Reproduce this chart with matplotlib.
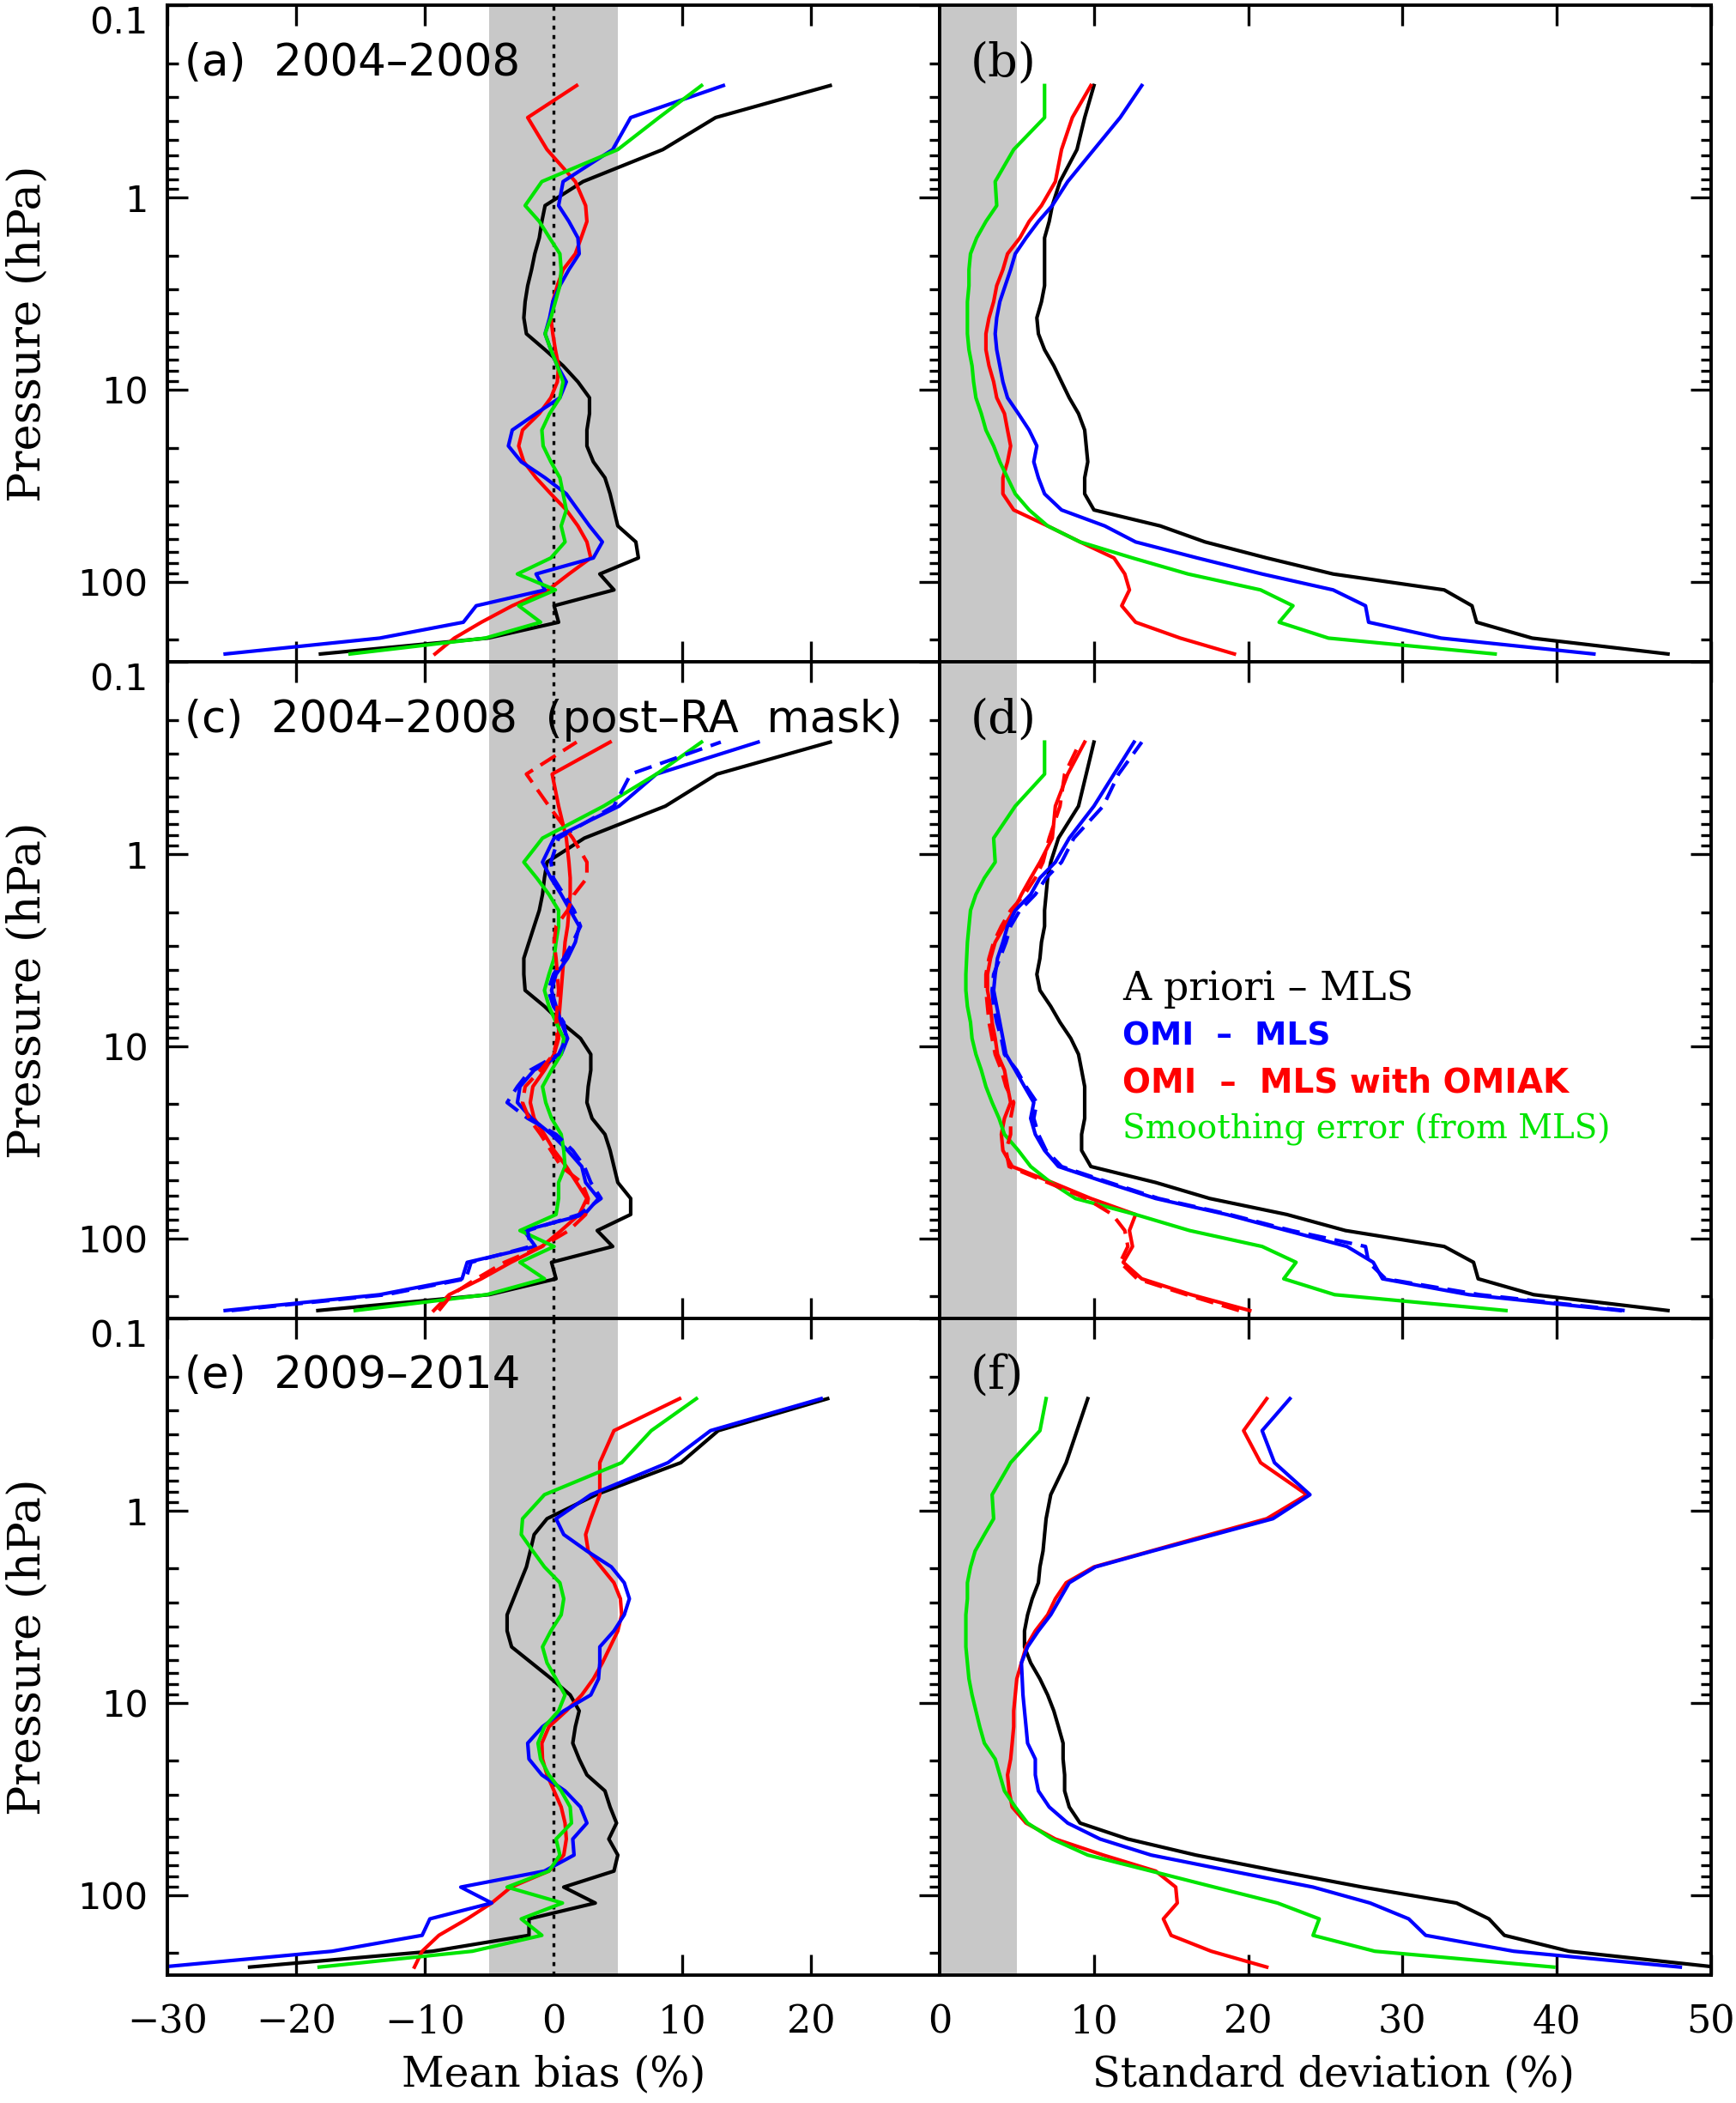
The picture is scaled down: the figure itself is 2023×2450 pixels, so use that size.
"""Six-panel OMI - MLS ozone profile comparison (mean bias and standard deviation)."""

import matplotlib

matplotlib.use("Agg")
import matplotlib.pyplot as plt  # noqa: E402
from matplotlib.ticker import FixedLocator, FixedFormatter, LogLocator, NullFormatter  # noqa: E402

plt.rcParams["font.family"] = ["DejaVu Sans"]
plt.rcParams["axes.unicode_minus"] = True

# --- Data ----------------------------------------------------------------
# common pressure grid, bottom to top (hPa)
PRESSURE = [237, 196, 162, 133, 110, 90.9, 75.0, 61.9, 51.1, 42.2, 34.8, 28.7,
            23.7, 19.6, 16.2, 13.3, 11.0, 9.09, 7.50, 6.19, 5.11, 4.22, 3.48,
            2.87, 2.37, 1.96, 1.62, 1.33, 1.10, 0.825, 0.562, 0.383, 0.261]

# (a) mean bias 2004-2008 (%)
A_PRIORI_A = [-18.1, -5.1, 0.4, 0.05, 4.7, 3.6, 6.6, 6.4, 5.0, 4.7, 4.4, 4.0, 3.1, 2.6,
              2.6, 2.8, 2.8, 1.9, 0.75, -0.65, -2.1, -2.3, -2.2, -2.0, -1.7, -1.45,
              -1.1, -0.9, -0.65, 2.3, 8.5, 12.6, 21.5]
OMI_A = [-25.5, -13.5, -7.0, -6.0, -0.65, -1.35, 3.1, 3.8, 2.8, 1.9, 1.0, -0.65, -2.5,
         -3.5, -3.2, -1.35, 0.5, 1.0, 0.3, -0.2, -0.65, -0.3, -0.05, 0.5, 1.2, 2.0,
         1.9, 1.2, 0.4, 0.75, 4.6, 6.0, 13.2]
OMIAK_A = [-9.2, -7.7, -5.6, -3.2, -0.4, 1.2, 2.9, 2.6, 1.9, 1.0, -0.2, -1.35, -2.3,
           -2.7, -2.4, -1.1, -0.2, 0.3, 0.4, 0.15, -0.05, -0.2, -0.05, 0.3, 0.75, 1.7,
           2.15, 2.6, 2.5, 1.7, -0.5, -2.0, 1.8]
SMOOTH_A = [-15.8, -5.3, -1.0, -2.7, 0.15, -2.8, -0.2, 0.9, 0.6, 1.0, 0.75, 0.5, -0.2,
            -0.8, -0.9, -0.3, 0.5, 0.75, 0.3, -0.2, -0.65, -0.2, 0.15, 0.5, 0.6, 0.5,
            -0.3, -1.1, -2.2, -0.9, 5.0, 8.2, 11.5]

# (b) standard deviation 2004-2008 (%)
A_PRIORI_B = [47.2, 38.4, 34.8, 34.5, 32.7, 25.5, 21.2, 17.2, 14.3, 10.0, 9.4, 9.4, 9.6,
              9.5, 9.4, 9.0, 8.4, 7.9, 7.4, 6.8, 6.4, 6.3, 6.6, 6.8, 6.8, 6.8, 6.8, 7.1,
              7.3, 7.8, 8.9, 9.4, 10.0]
OMI_B = [42.4, 32.5, 27.8, 27.6, 25.5, 20.9, 16.7, 12.7, 10.7, 7.9, 6.8, 6.4, 6.1, 6.3,
         5.8, 5.1, 4.4, 4.1, 3.9, 3.7, 3.6, 3.7, 3.9, 4.25, 4.6, 4.9, 5.6, 6.4, 7.3, 8.3,
         10.0, 11.7, 13.1]
OMIAK_B = [19.1, 15.6, 12.7, 11.8, 12.3, 12.0, 11.3, 9.1, 7.0, 4.8, 4.1, 4.1, 4.4, 4.6,
           4.4, 4.2, 3.7, 3.5, 3.2, 3.0, 3.0, 3.2, 3.5, 3.7, 4.1, 4.4, 5.2, 5.8, 6.6,
           7.5, 7.9, 8.6, 9.8]
SMOOTH_B = [36.0, 25.2, 22.0, 22.9, 20.8, 16.1, 12.5, 9.1, 7.0, 5.8, 4.9, 4.4, 3.9, 3.5,
            3.0, 2.7, 2.35, 2.2, 2.1, 1.9, 1.8, 1.8, 1.8, 1.9, 1.9, 2.0, 2.4, 3.0, 3.7,
            3.6, 4.8, 6.8, 6.8]

# (c) mean bias 2004-2008, post row-anomaly mask (%); *_DASH = dashed variants
A_PRIORI_C = [-18.3, -5.0, 0.2, -0.15, 4.6, 3.4, 6.0, 6.0, 5.0, 4.7, 4.4, 4.0, 3.0, 2.6,
              2.7, 2.9, 2.9, 2.1, 0.6, -0.7, -2.2, -2.3, -2.3, -1.9, -1.5, -1.1, -0.85,
              -0.7, -0.5, 2.4, 8.7, 12.7, 21.5]
OMI_C = [-25.5, -13.5, -7.1, -6.7, -1.4, -2.3, 2.4, 3.5, 2.5, 2.2, 1.1, -0.15, -1.7,
         -2.8, -2.6, -1.5, 0.6, 1.1, 0.6, 0.2, -0.15, 0.2, 1.1, 1.7, 2.0, 1.3, 0.6, -0.2,
         -0.85, 0.05, 5.1, 8.0, 15.9]
OMI_C_DASH = [-25.0, -13.0, -6.8, -6.4, -1.8, -2.0, 2.0, 3.7, 2.9, 2.4, 1.5, 0.2, -2.0,
              -3.6, -2.8, -1.8, 0.4, 1.0, 0.8, 0.0, -0.4, 0.0, 0.8, 1.5, 2.1, 1.6, 0.8,
              0.0, -0.2, 0.4, 4.7, 6.0, 13.0]
OMIAK_C = [-9.3, -8.1, -5.6, -3.3, -0.9, 0.6, 2.0, 2.6, 1.8, 1.0, 0.05, -0.7, -1.5, -1.8,
           -1.6, -0.7, 0.05, 0.4, 0.4, 0.5, 0.6, 0.7, 0.8, 0.9, 1.1, 1.2, 1.3, 1.3, 1.2,
           1.0, 0.4, -0.1, 4.4]
OMIAK_C_DASH = [-8.9, -7.9, -6.0, -3.8, -0.9, 1.2, 2.5, 2.7, 2.2, 0.6, -0.2, -1.0, -1.9,
                -2.4, -2.2, -1.0, 0.0, 0.3, 0.2, 0.3, 0.4, 0.3, 0.2, 0.05, 0.2, 1.1, 1.6,
                2.6, 2.6, 1.5, -0.35, -2.1, 1.8]
SMOOTH_C = [-15.4, -5.2, -0.7, -2.6, 0.05, -2.6, 0.2, 0.4, 0.4, 0.9, 0.8, 0.6, -0.15,
            -0.6, -0.85, -0.15, 0.6, 0.8, 0.2, -0.35, -0.7, -0.35, 0.05, 0.2, 0.4, 0.4,
            -0.35, -1.3, -2.3, -0.85, 3.9, 8.0, 11.5]

# (d) standard deviation 2004-2008, post row-anomaly mask (%)
A_PRIORI_D = [47.2, 38.5, 34.9, 34.6, 32.7, 26.3, 22.5, 17.5, 14.0, 9.8, 9.2, 9.2, 9.4,
              9.4, 9.4, 9.2, 9.0, 8.5, 7.8, 7.2, 6.5, 6.3, 6.5, 6.6, 6.8, 6.8, 6.9, 7.0,
              7.2, 7.7, 9.0, 9.5, 10.0]
OMI_D = [44.1, 34.3, 28.7, 28.1, 26.4, 22.5, 18.6, 14.0, 10.8, 7.7, 6.8, 6.2, 5.9, 6.1,
         5.5, 4.9, 4.3, 4.1, 3.9, 3.7, 3.5, 3.6, 3.75, 4.1, 4.4, 4.9, 5.9, 6.5, 7.5, 8.4,
         10.0, 11.3, 12.6]
OMI_D_DASH = [44.4, 35.0, 28.9, 27.8, 27.6, 22.8, 18.8, 14.2, 11.0, 7.9, 6.9, 6.4, 6.1,
              6.3, 5.6, 5.0, 4.2, 4.0, 3.7, 3.5, 3.4, 3.5, 3.9, 4.3, 4.6, 5.2, 6.2, 6.9,
              7.9, 8.7, 10.6, 11.6, 13.1]
OMIAK_D = [20.1, 16.3, 13.1, 11.9, 12.5, 12.3, 12.7, 9.8, 7.3, 4.7, 4.1, 4.0, 4.2, 4.6,
           4.4, 4.2, 3.75, 3.6, 3.4, 3.3, 3.1, 3.1, 3.3, 3.6, 4.2, 4.8, 5.3, 5.9, 6.5,
           7.3, 7.5, 8.3, 9.4]
OMIAK_D_DASH = [19.4, 16.0, 12.8, 11.7, 12.2, 12.0, 11.2, 9.5, 7.0, 4.5, 4.3, 4.6, 4.6,
                4.8, 4.3, 4.0, 3.6, 3.4, 3.2, 3.1, 3.0, 3.0, 3.2, 3.5, 4.0, 4.6, 5.5, 6.2,
                6.7, 7.1, 7.8, 8.1, 9.1]
SMOOTH_D = [36.7, 25.6, 22.3, 23.1, 20.9, 16.2, 12.7, 8.8, 7.2, 5.9, 5.1, 4.2, 3.85, 3.4,
            3.0, 2.7, 2.35, 2.1, 2.0, 1.8, 1.7, 1.7, 1.75, 1.8, 1.9, 2.0, 2.35, 2.9, 3.6,
            3.5, 4.9, 6.8, 6.8]

# (e) mean bias 2009-2014 (%)
A_PRIORI_E = [-23.6, -9.4, -1.9, -1.9, 3.25, 0.8, 4.7, 5.0, 4.3, 4.9, 4.4, 4.0, 2.6, 2.0,
              1.5, 1.7, 2.0, 1.3, -0.15, -1.7, -3.25, -3.6, -3.6, -3.1, -2.6, -2.1,
              -1.8, -1.5, -0.5, 3.3, 9.9, 12.8, 21.3]
OMI_E = [-30.5, -17.2, -10.2, -9.6, -4.8, -7.2, -0.7, 1.6, 1.5, 2.6, 2.1, 0.9, -0.9,
         -1.9, -2.0, -0.85, 0.8, 2.9, 3.5, 3.6, 3.6, 4.7, 5.5, 5.9, 5.5, 4.5, 2.6, 0.8,
         0.2, 2.9, 8.9, 12.2, 20.8]
OMIAK_E = [-10.8, -10.2, -8.9, -6.7, -4.8, -3.3, -0.35, 0.8, 1.0, 0.9, 0.6, 0.05, -0.5,
           -0.85, -0.9, -0.35, 1.0, 2.2, 3.1, 3.8, 4.4, 5.0, 5.3, 5.2, 4.7, 3.7, 2.7, 2.5,
           2.9, 3.6, 3.6, 4.7, 9.8]
SMOOTH_E = [-18.2, -6.3, -0.9, -2.5, 0.7, -3.6, -0.35, 0.5, 0.2, 1.4, 1.3, 0.6, -0.35,
            -1.0, -1.2, -0.7, 0.4, 0.9, 0.2, -0.5, -0.85, -0.2, 0.6, 0.8, 0.5, -0.7,
            -1.6, -2.5, -2.4, -0.7, 5.3, 7.6, 11.1]

# (f) standard deviation 2009-2014 (%)
A_PRIORI_F = [50.3, 40.8, 36.6, 35.6, 33.5, 27.4, 21.9, 16.6, 12.2, 9.1, 8.4, 8.1, 8.1,
              8.0, 8.0, 7.7, 7.4, 7.0, 6.5, 5.9, 5.5, 5.5, 5.7, 6.0, 6.4, 6.5, 6.7, 6.8,
              6.9, 7.2, 8.2, 8.9, 9.6]
OMI_F = [48.0, 37.2, 31.5, 30.4, 27.9, 24.2, 18.9, 13.7, 10.4, 8.3, 7.1, 6.4, 6.2, 6.2,
         5.7, 5.6, 5.5, 5.4, 5.35, 5.3, 5.7, 6.4, 7.2, 7.8, 8.4, 10.1, 13.8, 17.8, 21.6,
         24.0, 21.7, 20.9, 22.7]
OMIAK_F = [21.2, 17.6, 15.0, 14.5, 15.4, 15.3, 14.0, 10.6, 7.5, 5.6, 4.7, 4.5, 4.4, 4.6,
           4.7, 4.8, 4.8, 4.9, 5.0, 5.3, 5.6, 6.2, 7.0, 7.5, 8.2, 10.0, 13.7, 17.5, 21.2,
           23.8, 20.8, 19.7, 21.2]
SMOOTH_F = [39.8, 28.2, 24.2, 24.6, 21.9, 17.8, 13.7, 9.6, 7.3, 5.7, 4.9, 4.2, 3.9, 3.6,
            2.9, 2.6, 2.35, 2.1, 1.9, 1.8, 1.7, 1.7, 1.7, 1.8, 1.8, 2.0, 2.3, 2.9, 3.5,
            3.4, 4.6, 6.5, 6.9]

PANEL_TAGS = ["(a)  2004\u20132008", "(b)", "(c)  2004\u20132008  (post\u2013RA  mask)",
              "(d)", "(e)  2009\u20132014", "(f)"]
LEGEND_LABELS = ["A priori \u2013 MLS", "OMI  \u2013  MLS", "OMI  \u2013  MLS with OMIAK",
                 "Smoothing error (from MLS)"]

BIAS_TICKS = [-30, -20, -10, 0, 10, 20, 30]
BIAS_TICKLABELS = ["\u221230", "\u221220", "\u221210", "0", "10", "20", ""]
SD_TICKS = [0, 10, 20, 30, 40, 50]
SD_TICKLABELS = ["0", "10", "20", "30", "40", "50"]
P_TICKS = [0.1, 1, 10, 100]
P_TICKLABELS = ["0.1", "1", "10", "100"]

# --- Style ---------------------------------------------------------------
BLACK, BLUE, RED, GREEN = "black", "#0000ff", "#ff0000", "#00e400"
SHADE = "#c8c8c8"
LW = 3.0
DASH = (0, (5, 2.5))
SERIF = "DejaVu Serif"

X0, XM, X1 = 0.0963, 0.5410, 0.9852
ROW_BOTTOMS = [0.6852, 0.3730, 0.0608]
ROW_H = 0.3122


def style_axes(ax, bias, bottom_row, left_col):
    ax.set_yscale("log")
    ax.set_ylim(261, 0.1)
    if bias:
        ax.set_xlim(-30, 30)
        ax.xaxis.set_major_locator(FixedLocator(BIAS_TICKS))
        labels = BIAS_TICKLABELS
        ax.axvspan(-5, 5, color=SHADE, lw=0, zorder=1)
        ax.axvline(0, color="black", ls=(0, (1.4, 1.9)), lw=2.4, zorder=1.5)
    else:
        ax.set_xlim(0, 50)
        ax.xaxis.set_major_locator(FixedLocator(SD_TICKS))
        labels = SD_TICKLABELS
        ax.axvspan(0, 5, color=SHADE, lw=0, zorder=1)
    if bottom_row:
        ax.xaxis.set_major_formatter(FixedFormatter(labels))
    else:
        ax.xaxis.set_major_formatter(NullFormatter())

    ax.yaxis.set_major_locator(FixedLocator(P_TICKS))
    ax.yaxis.set_minor_locator(LogLocator(base=10, subs=range(2, 10)))
    ax.yaxis.set_minor_formatter(NullFormatter())
    if left_col:
        ax.yaxis.set_major_formatter(FixedFormatter(P_TICKLABELS))
    else:
        ax.yaxis.set_major_formatter(NullFormatter())

    ax.set_axisbelow(True)
    ax.tick_params(which="both", direction="in", top=True, bottom=True,
                   left=True, right=True, width=2.4)
    ax.tick_params(which="major", length=17)
    ax.tick_params(which="minor", length=9)
    ax.tick_params(axis="x", pad=24, labelsize=32, labelfontfamily=SERIF)
    ax.tick_params(axis="y", pad=16, labelsize=31)
    for sp in ax.spines.values():
        sp.set_linewidth(2.8)


def draw_lines(ax, solid, dashed=()):
    for vals, color in solid:
        ax.plot(vals, PRESSURE, color=color, lw=LW, zorder=2)
    for vals, color in dashed:
        ax.plot(vals, PRESSURE, color=color, lw=LW, ls=DASH, zorder=2)


def main():
    fig = plt.figure(figsize=(20.24, 24.5), dpi=100)

    panels = [
        ([(A_PRIORI_A, BLACK), (OMIAK_A, RED), (OMI_A, BLUE), (SMOOTH_A, GREEN)], []),
        ([(A_PRIORI_B, BLACK), (OMIAK_B, RED), (OMI_B, BLUE), (SMOOTH_B, GREEN)], []),
        ([(A_PRIORI_C, BLACK), (OMIAK_C, RED), (OMI_C, BLUE), (SMOOTH_C, GREEN)],
         [(OMI_C_DASH, BLUE), (OMIAK_C_DASH, RED)]),
        ([(A_PRIORI_D, BLACK), (OMIAK_D, RED), (OMI_D, BLUE), (SMOOTH_D, GREEN)],
         [(OMI_D_DASH, BLUE), (OMIAK_D_DASH, RED)]),
        ([(A_PRIORI_E, BLACK), (OMIAK_E, RED), (OMI_E, BLUE), (SMOOTH_E, GREEN)], []),
        ([(A_PRIORI_F, BLACK), (OMIAK_F, RED), (OMI_F, BLUE), (SMOOTH_F, GREEN)], []),
    ]

    axes = []
    for i, (solid, dashed) in enumerate(panels):
        row, col = divmod(i, 2)
        left = X0 if col == 0 else XM
        width = (XM - X0) if col == 0 else (X1 - XM)
        ax = fig.add_axes([left, ROW_BOTTOMS[row], width, ROW_H])
        style_axes(ax, bias=(col == 0), bottom_row=(row == 2), left_col=(col == 0))
        draw_lines(ax, solid, dashed)
        if col == 0:
            ax.text(0.022, 0.912, PANEL_TAGS[i], transform=ax.transAxes,
                    fontsize=37, va="center", ha="left", zorder=5)
        else:
            ax.text(0.040, 0.912, PANEL_TAGS[i], transform=ax.transAxes,
                    fontsize=39, va="center", ha="left", family=SERIF, zorder=5)
        axes.append(ax)

    # legend as coloured text in panel (d)
    ax_d = axes[3]
    leg_y = [0.502, 0.430, 0.359, 0.288]
    leg_fonts = [(SERIF, "normal", 33), ("DejaVu Sans", "bold", 27),
                 ("DejaVu Sans", "bold", 28), (SERIF, "normal", 28)]
    for label, y, color, (fam, wt, fs) in zip(LEGEND_LABELS, leg_y,
                                              [BLACK, BLUE, RED, GREEN], leg_fonts):
        ax_d.text(0.237, y, label, transform=ax_d.transAxes, color=color,
                  family=fam, fontweight=wt, fontsize=fs, va="center", ha="left")

    for b in ROW_BOTTOMS:
        fig.text(0.016, b + ROW_H / 2, "Pressure (hPa)", rotation=90, va="center",
                 ha="center", family=SERIF, fontsize=38)
    fig.text((X0 + XM) / 2, 0.0135, "Mean bias (%)", va="center", ha="center",
             family=SERIF, fontsize=35)
    fig.text(0.768, 0.0135, "Standard deviation (%)", va="center", ha="center",
             family=SERIF, fontsize=34.5)

    # the 0.1 labels hang below their tick, as in the original
    fig.canvas.draw()
    for ax in axes[0::2]:
        for lbl in ax.get_yticklabels():
            if lbl.get_text() == "0.1":
                lbl.set_verticalalignment("top")

    fig.savefig("out.png", dpi=100)


if __name__ == "__main__":
    main()
